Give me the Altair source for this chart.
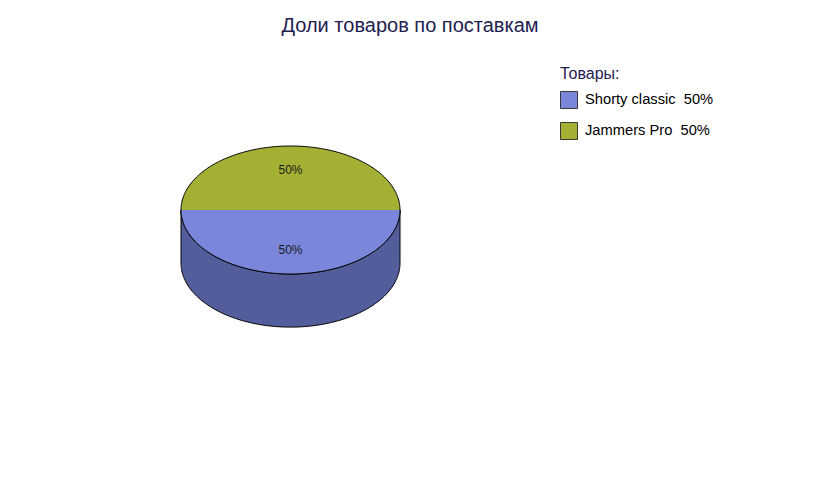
import altair as alt
import numpy as np
import pandas as pd

# ---- data ----
categories = ["Shorty classic", "Jammers Pro"]
shares = [50, 50]
top_colors = ["#7986da", "#a3b034"]
side_color = "#535d9b"
legend_title = "Товары:"
chart_title = "Доли товаров по поставкам"

# ---- geometry derived from the shares (unit ellipse, drawn through scales) ----
DEPTH = 0.83
START = 180.0
face_rows, label_rows = [], []
legend_labels = [f"{c}\u00a0\u00a0{s}%" for c, s in zip(categories, shares)]
a0 = START
for cat, share, lab in zip(categories, shares, legend_labels):
    a1 = a0 + share / sum(shares) * 360.0
    for t in np.linspace(a0, a1, 181):
        r = np.radians(t)
        face_rows.append({"cat": lab, "t": t, "x": np.cos(r), "y": np.sin(r), "y0": 0.0})
    mid = np.radians((a0 + a1) / 2)
    label_rows.append({"x": 0.63 * np.cos(mid), "y": 0.63 * np.sin(mid), "text": f"{share}%"})
    a0 = a1
faces = pd.DataFrame(face_rows)
labels = pd.DataFrame(label_rows)

side_t = np.linspace(180, 360, 181)
side = pd.DataFrame({
    "x": np.cos(np.radians(side_t)),
    "y": np.sin(np.radians(side_t)),
})
side["yb"] = side["y"] - DEPTH

ring_t = np.linspace(0, 360, 361)
ring = pd.DataFrame({"t": ring_t, "x": np.cos(np.radians(ring_t)), "y": np.sin(np.radians(ring_t))})

xs = alt.Scale(domain=[-1, 1], range=[173, 392], zero=False, nice=False)
ys = alt.Scale(domain=[-1, 1], range=[216, 88], zero=False, nice=False)
X = lambda: alt.X("x:Q", scale=xs, axis=None)
Y = lambda: alt.Y("y:Q", scale=ys, axis=None)

side_layer = alt.Chart(side).mark_area(color=side_color, stroke="#000000", strokeWidth=1, opacity=1).encode(
    x=X(), y=Y(), y2="yb:Q"
)

face_layer = alt.Chart(faces).mark_area(opacity=1).encode(
    x=X(), y=Y(), y2="y0:Q",
    color=alt.Color(
        "cat:N",
        scale=alt.Scale(domain=legend_labels, range=top_colors),
        legend=alt.Legend(
            title=legend_title,
            orient="none",
            legendX=552,
            legendY=8,
            symbolType="square",
            symbolSize=289,
            symbolStrokeColor="#3a3a3a",
            symbolStrokeWidth=1,
            symbolOpacity=1,
            labelFont="Liberation Sans",
            labelFontSize=14.7,
            labelColor="#000000",
            labelOffset=7,
            titleFont="Liberation Sans",
            titleFontSize=16,
            titleFontWeight="normal",
            titleColor="#1f2050",
            titlePadding=9,
            rowPadding=9,
            padding=0,
        ),
    ),
    detail="cat:N",
)

ring_layer = alt.Chart(ring).mark_line(color="#000000", strokeWidth=1).encode(
    x=X(), y=Y(), order="t:Q"
)

text_layer = alt.Chart(labels).mark_text(
    font="Liberation Sans", fontSize=12, color="#1a1a1a", baseline="middle", align="center"
).encode(x=X(), y=Y(), text="text:N")

chart = (
    alt.layer(side_layer, face_layer, ring_layer, text_layer)
    .properties(
        width=804,
        height=414,
        padding={"left": 0, "top": 50, "right": 0, "bottom": 0},
        autosize=alt.AutoSizeParams(type="none"),
        title=alt.TitleParams(
            chart_title,
            font="Liberation Sans",
            fontSize=20,
            fontWeight="normal",
            color="#1f2050",
            anchor="middle",
            baseline="bottom",
            offset=25,
            dy=23,
        ),
        background="#ffffff",
    )
    .configure_view(strokeWidth=0)
)

chart.save("out.html", embed_options={"renderer": "svg", "actions": False})
